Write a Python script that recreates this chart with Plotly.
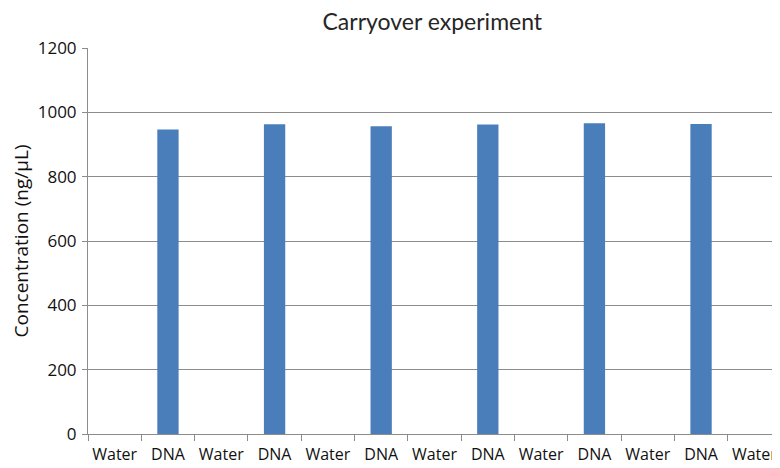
import plotly.graph_objects as go

# Sample order as run on the instrument
samples = ["Water", "DNA", "Water", "DNA", "Water", "DNA", "Water",
           "DNA", "Water", "DNA", "Water", "DNA", "Water"]
# Measured concentration (ng/uL)
concentration = [0, 947, 0, 963, 0, 957, 0, 962, 0, 966, 0, 964, 0]

y_ticks = [0, 200, 400, 600, 800, 1000, 1200]

positions = list(range(len(samples)))
boundaries = [p - 0.5 for p in positions] + [positions[-1] + 0.5]

fig = go.Figure()

fig.add_trace(go.Bar(
    x=positions, y=concentration,
    marker=dict(color="#4a7ebb", line=dict(width=0)),
    width=0.4, showlegend=False
))

# page body adds an 8px offset, margins below account for it
fig.update_layout(
    width=780, height=468,
    title=dict(text="Carryover experiment", x=0.544, xanchor="center", y=0.97, yanchor="middle",
               font=dict(family="Lato", size=23, color="#262626")),
    plot_bgcolor="white", paper_bgcolor="white",
    margin=dict(l=80, r=7, t=40, b=42, autoexpand=False),
    font=dict(family="Open Sans", color="#111111"),
    xaxis=dict(
        range=[-0.5, len(samples) - 0.5],
        tickmode="array", tickvals=positions, ticktext=samples,
        ticks="", showgrid=False, zeroline=False, automargin=False,
        showline=True, linecolor="#8c8c8c", linewidth=1,
        tickfont=dict(size=16, family="Open Sans"), ticklabelstandoff=6,
        minor=dict(tickmode="array", tickvals=boundaries, ticks="outside",
                   ticklen=6, tickcolor="#8c8c8c", showgrid=False)
    ),
    yaxis=dict(
        range=[0, 1200], tickmode="array", tickvals=y_ticks,
        ticks="outside", ticklen=5, tickcolor="#8c8c8c",
        showgrid=True, gridcolor="#8c8c8c", gridwidth=1,
        showline=True, linecolor="#8c8c8c", linewidth=1,
        zeroline=False, automargin=False,
        tickfont=dict(size=17, family="Open Sans"), ticklabelstandoff=2,
        title=dict(text="Concentration (ng/μL)", font=dict(size=19, family="Open Sans"), standoff=10)
    )
)

fig.write_html("out.html")
